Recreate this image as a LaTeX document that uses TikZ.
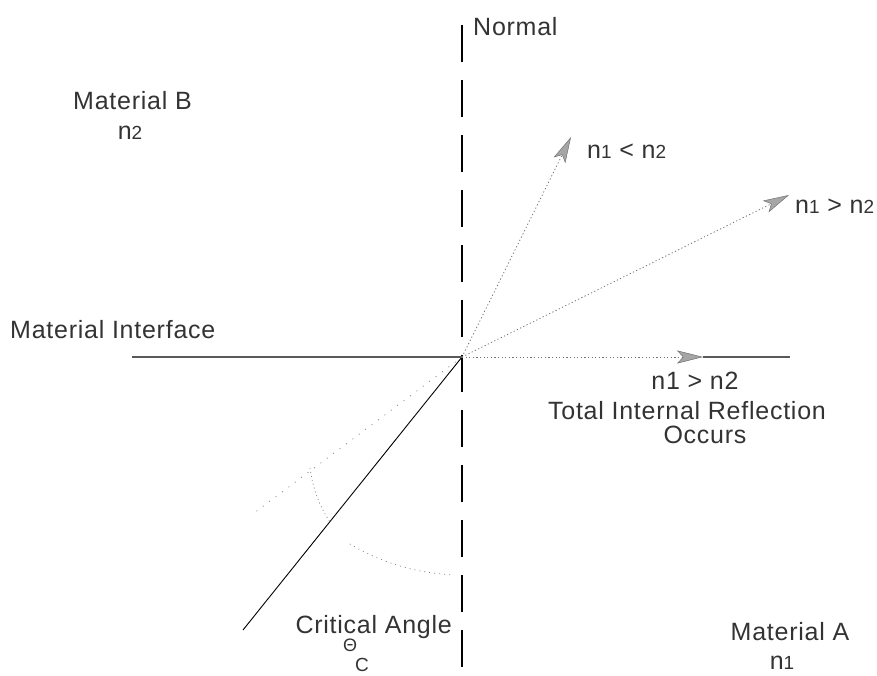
\documentclass[tikz,border=0pt]{standalone}
\usepackage{fontspec}
\setmainfont{Liberation Sans}[LetterSpace=3]
\usetikzlibrary{arrows.meta,calc}
\newcommand\lowdig[1]{{\fontsize{19}{19}\selectfont #1}}
\begin{document}
\begin{tikzpicture}[x=1pt,y=1pt,
  lbl/.style={font=\fontsize{25}{30}\selectfont, inner sep=0pt, text=black!80},
  normalline/.style={black, line width=1.4pt, dash pattern=on 37pt off 18pt},
  iface/.style={black!65, line width=1.3pt},
  incident/.style={black, line width=0.9pt},
  ray/.style={black!55, line width=0.8pt, dash pattern=on 1.2pt off 2.4pt,
    -{Stealth[length=26pt,width=13pt,inset=6pt,fill=black!35,line width=0.5pt]}},
  faint/.style={black!50, line width=0.7pt, dash pattern=on 1pt off 7pt}]
\useasboundingbox (0,0) rectangle (877,675);
\coordinate (O) at (462,318);
\coordinate (Ntop) at (462,650);
\coordinate (Nbot) at (462,0);
\coordinate (IL) at (132,318);
\coordinate (IR1) at (703,318);
\coordinate (IR2) at (790,318);
\coordinate (Inc) at (243,45);
\coordinate (T1) at (571,538);
\coordinate (T2) at (789,480);
\coordinate (Ext) at (254,162);
\coordinate (A1s) at (310,207);
\coordinate (A1e) at (330,153);
\coordinate (A2s) at ($(O)+(239:218)$);

\draw[normalline] (Ntop) -- (Nbot);
\draw[iface] (IL) -- (O);
\draw[iface] (IR1) -- (IR2);
\draw[incident] (O) -- (Inc);
\draw[ray] (O) -- (T1);
\draw[ray] (O) -- (T2);
\draw[ray] (O) -- (IR1);
\draw[faint] (O) -- (Ext);
\draw[faint, dash pattern=on 1pt off 3pt] (A1s) .. controls (313,185) and (320,168) .. (A1e);
\draw[faint, dash pattern=on 1pt off 4pt] (A2s) arc[start angle=239, end angle=267, radius=218];

\node[lbl, anchor=base west] (normal) at (473,639) {Normal};
\node[lbl, anchor=base west] (matB) at (73,565) {Material B};
\node[lbl, anchor=base] (nB) at (130,535) {n\lowdig{2}};
\node[lbl, anchor=base west] (lt) at (587,516) {n\lowdig{1} < n\lowdig{2}};
\node[lbl, anchor=base west] (gt) at (795,461) {n\lowdig{1} > n\lowdig{2}};
\node[lbl, anchor=base west] (mi) at (10,336) {Material Interface};
\node[lbl, anchor=base] (tir1) at (695,285) {n1 > n2};
\node[lbl, anchor=base] (tir2) at (687,255) {Total Internal Reflection};
\node[lbl, anchor=base] (tir3) at (705,232) {Occurs};
\node[lbl, anchor=base east] (crit) at (452,42) {Critical Angle};
\node[lbl, anchor=base, font=\fontsize{18}{18}\selectfont] (theta) at (350,24) {Θ};
\node[lbl, anchor=base, font=\fontsize{19}{19}\selectfont] (thc) at (362,4) {C};
\node[lbl, anchor=base] (matA) at (790,35) {Material A};
\node[lbl, anchor=base] (nA) at (782,6) {n\lowdig{1}};
\end{tikzpicture}
\end{document}
